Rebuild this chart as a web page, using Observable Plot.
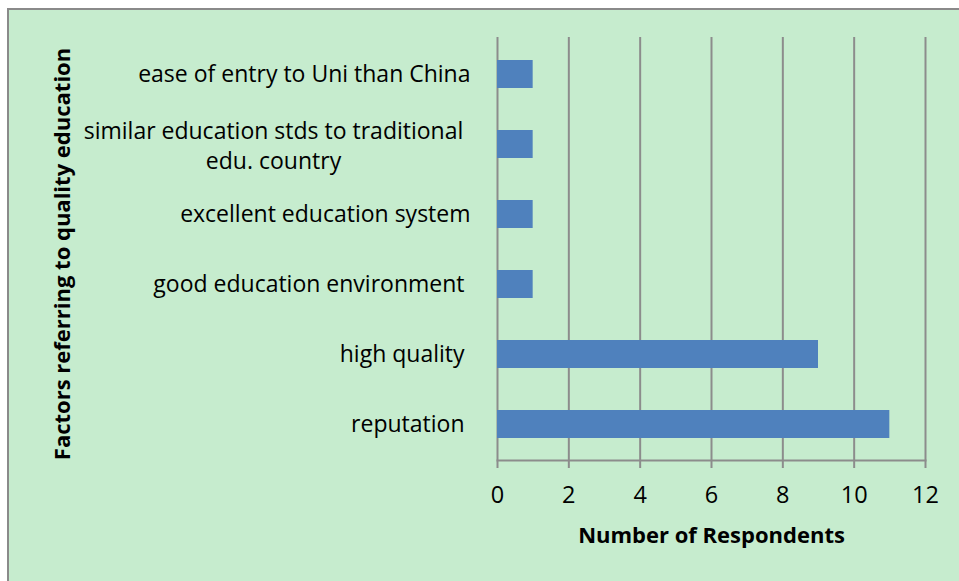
<!DOCTYPE html>
<html>
<head>
<meta charset="utf-8">
<script src="https://cdn.jsdelivr.net/npm/d3@7"></script>
<script src="https://cdn.jsdelivr.net/npm/@observablehq/plot@0.6"></script>
<style>
  html, body { margin: 0; padding: 0; background: #ffffff; overflow: hidden; }
  #frame {
    position: absolute; left: 7px; top: 8px; width: 960px; height: 580px;
    background: #c6ecce; border-top: 2px solid #8a8a8a; border-left: 2px solid #8a8a8a;
    overflow: hidden;
  }
  #chart { position: absolute; left: -9px; top: -10px; }
  #chart svg text { white-space: pre; }
</style>
</head>
<body>
<div id="frame"><div id="chart"></div></div>
<script>
const categories = [
  "reputation ",
  "high quality ",
  "good education environment ",
  "excellent education system",
  "similar education stds to traditional\nedu. country",
  "ease of entry to Uni than China"
];
const values = [11, 9, 1, 1, 1, 1];
const xTicks = [0, 2, 4, 6, 8, 10, 12];
const xTitle = "Number of Respondents";
const yTitle = "Factors referring to quality education";

const data = categories.map((c, i) => ({category: c, value: values[i]}));
const singleLine = data.filter(d => !d.category.includes("\n"));
const multiLine = data.filter(d => d.category.includes("\n"));

const font = "'Open Sans', Lato, sans-serif";
const grey = "#8c8c8c";

const chart = Plot.plot({
  width: 959,
  height: 581,
  marginLeft: 497,
  marginRight: 34,
  marginTop: 37,
  marginBottom: 121,
  style: {background: "transparent", fontFamily: font, fontSize: "22px", color: "#000"},
  x: {domain: [0, 12], ticks: xTicks, grid: false, label: null},
  y: {domain: categories.slice().reverse(), paddingInner: 0.6, paddingOuter: 0.3, label: null, axis: null},
  marks: [
    Plot.ruleX(xTicks, {stroke: grey, strokeWidth: 2, strokeOpacity: 1}),
    Plot.frame({anchor: "bottom", stroke: grey, strokeWidth: 2}),
    Plot.axisX({ticks: xTicks, tickSize: 8, tickPadding: 18, stroke: grey, strokeWidth: 2, strokeOpacity: 1, fontSize: 23.5, fill: "#000", label: null}),
    Plot.barX(data, {x: "value", y: "category", fill: "#4f81bd"}),
    Plot.text(singleLine, {x: () => 0, y: "category", text: "category", textAnchor: "end", dx: -27, fontSize: 23, fill: "#000"}),
    Plot.text(multiLine, {x: () => 0, y: "category", text: "category", textAnchor: "middle", dx: -224, lineHeight: 1.3, fontSize: 23, fill: "#000"}),
    Plot.text([xTitle], {frameAnchor: "bottom", dy: 82, text: d => d, fontSize: 22, fontWeight: "bold", fill: "#000"}),
    Plot.text([yTitle], {frameAnchor: "left", textAnchor: "middle", dx: -435, dy: 5, rotate: -90, text: d => d, fontSize: 22, fontWeight: "bold", fill: "#000"})
  ]
});
document.getElementById("chart").appendChild(chart);
</script>
</body>
</html>
